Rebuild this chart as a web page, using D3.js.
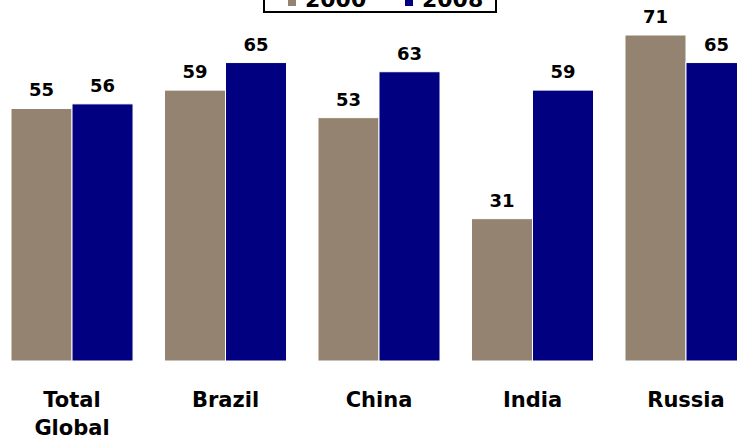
<!DOCTYPE html>
<html>
<head>
<meta charset="utf-8">
<script src="https://cdn.jsdelivr.net/npm/d3@7"></script>
<style>
  body { margin: 0; background: #fff; }
  svg { display: block; }
  text { font-family: "DejaVu Sans", Verdana, sans-serif; font-weight: bold; fill: #000; }
</style>
</head>
<body>
<div id="chart"></div>
<script>
// data
var categories = ["Total Global", "Brazil", "China", "India", "Russia"]
var series = ["2000", "2008"]
var values2000 = [55, 59, 53, 31, 71]
var values2008 = [56, 65, 63, 59, 65]
var colors = ["#948370", "#000080"]

var width = 737, height = 438

var svg = d3.select("#chart")
  .append("svg")
  .attr("width", width)
  .attr("height", height)

// scales
var x = d3.scaleBand()
  .domain(categories)
  .range([11, 747])
  .paddingInner(0.205)
  .paddingOuter(0)

var xSub = d3.scaleBand()
  .domain(series)
  .range([0, x.bandwidth()])
  .padding(0)

var y = d3.scaleLinear()
  .domain([0, 71])
  .range([361, 35])

var rows = categories.map(function(c, i) {
  return {cat: c, vals: [values2000[i], values2008[i]]}
})

var groups = svg.selectAll(".grp")
  .data(rows)
  .enter()
  .append("g")
  .attr("class", "grp")
  .attr("transform", function(d) { return "translate(" + x(d.cat) + ",0)" })

// bars
groups.selectAll("rect")
  .data(function(d) { return d.vals.map(function(v, j) { return {s: series[j], v: v, j: j} }) })
  .enter()
  .append("rect")
  .attr("x", function(d) { return xSub(d.s) })
  .attr("y", function(d) { return y(d.v) })
  .attr("width", xSub.bandwidth())
  .attr("height", function(d) { return y(0) - y(d.v) })
  .attr("fill", function(d) { return colors[d.j] })
  .attr("stroke", "#fff")
  .attr("stroke-width", 1)

// value labels
groups.selectAll(".val")
  .data(function(d) { return d.vals.map(function(v, j) { return {s: series[j], v: v} }) })
  .enter()
  .append("text")
  .attr("class", "val")
  .attr("x", function(d) { return xSub(d.s) + xSub.bandwidth() / 2 })
  .attr("y", function(d) { return y(d.v) - 12 })
  .attr("text-anchor", "middle")
  .style("font-size", "18px")
  .text(function(d) { return d.v })

// category labels
var catText = svg.selectAll(".cat")
  .data(categories)
  .enter()
  .append("text")
  .attr("class", "cat")
  .attr("text-anchor", "middle")
  .style("font-size", "21px")
  .attr("y", 407)

catText.selectAll("tspan")
  .data(function(d) { return d.split(" ").map(function(w) { return {w: w, c: d} }) })
  .enter()
  .append("tspan")
  .attr("x", function(d) { return x(d.c) + x.bandwidth() / 2 })
  .attr("dy", function(d, i) { return i == 0 ? 0 : 28 })
  .text(function(d) { return d.w })

// legend (top is cut off by the frame)
var legend = svg.append("g")

legend.append("rect")
  .attr("x", 264)
  .attr("y", -30)
  .attr("width", 232)
  .attr("height", 42)
  .attr("fill", "#fff")
  .attr("stroke", "#000")
  .attr("stroke-width", 2)

var legX = [288, 405]
series.forEach(function(s, i) {
  legend.append("rect")
    .attr("x", legX[i])
    .attr("y", -4)
    .attr("width", 8)
    .attr("height", 10)
    .attr("fill", colors[i])
  legend.append("text")
    .attr("x", legX[i] + 17)
    .attr("y", 7)
    .style("font-size", "22px")
    .text(s)
})
</script>
</body>
</html>
